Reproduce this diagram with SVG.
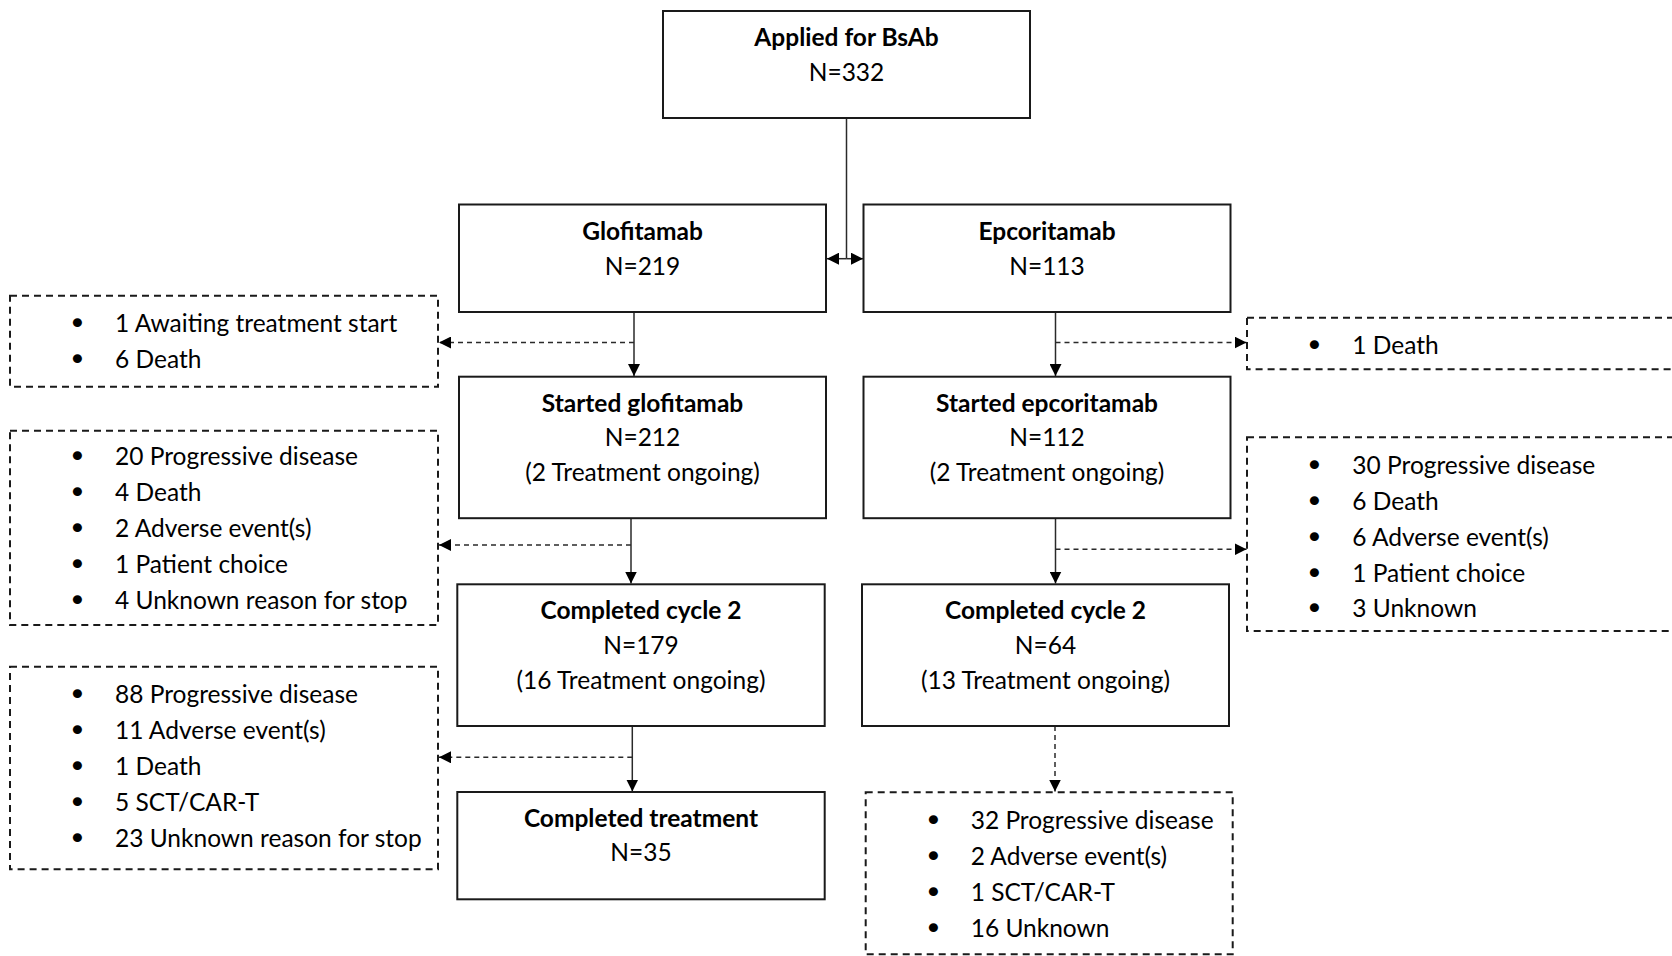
<svg xmlns="http://www.w3.org/2000/svg" width="1672" height="956" viewBox="0 0 1672 956">
<defs>
<style>
.box{fill:#fff;stroke:#1a1a1a;stroke-width:2}
.dbox{fill:#fff;stroke:#1a1a1a;stroke-width:2;stroke-dasharray:7 5}
.t{font-family:Lato,"Liberation Sans",sans-serif;font-size:24.5px;fill:#000}
.b{font-weight:bold;text-anchor:middle}
.c{text-anchor:middle}
.bl{font-family:"DejaVu Sans",sans-serif;font-size:31px;fill:#000;text-anchor:middle}
.ln{fill:none;stroke:#2a2a2a;stroke-width:1.5}
.dl{fill:none;stroke:#2a2a2a;stroke-width:1.5;stroke-dasharray:5 4}
</style>
<marker id="ah" viewBox="0 0 12 12" refX="12" refY="6" markerWidth="12" markerHeight="12" markerUnits="userSpaceOnUse" orient="auto">
<path d="M0,0 L12,6 L0,12 Z" fill="#000"/>
</marker>
</defs>
<rect width="1672" height="956" fill="#fff"/>

<g id="connectors">
<path class="ln" d="M846.5,118 V258.7"/>
<path class="ln" d="M846.5,258.7 H827" marker-end="url(#ah)"/>
<path class="ln" d="M846.5,258.7 H863" marker-end="url(#ah)"/>
<path class="ln" d="M634,312 V376" marker-end="url(#ah)"/>
<path class="dl" d="M634,342.5 H439" marker-end="url(#ah)"/>
<path class="ln" d="M1055.5,312 V376" marker-end="url(#ah)"/>
<path class="dl" d="M1055.5,342.5 H1246.5" marker-end="url(#ah)"/>
<path class="ln" d="M631,518.5 V583.5" marker-end="url(#ah)"/>
<path class="dl" d="M631,545 H439" marker-end="url(#ah)"/>
<path class="ln" d="M1055.5,518.5 V583.5" marker-end="url(#ah)"/>
<path class="dl" d="M1055.5,549.3 H1246.5" marker-end="url(#ah)"/>
<path class="ln" d="M632.3,726 V791.5" marker-end="url(#ah)"/>
<path class="dl" d="M632.3,757.3 H439" marker-end="url(#ah)"/>
<path class="dl" d="M1055,726 V791.5" marker-end="url(#ah)"/>
</g>

<g id="applied">
<rect class="box" x="663" y="11" width="367" height="107"/>
<text class="t b" x="846.5" y="46">Applied for BsAb</text>
<text class="t c" x="846.5" y="80.5">N=332</text>
</g>

<g id="glofitamab">
<rect class="box" x="459" y="204.5" width="367" height="107.5"/>
<text class="t b" x="642.5" y="240">Glofitamab</text>
<text class="t c" x="642.5" y="274.5">N=219</text>
</g>

<g id="epcoritamab">
<rect class="box" x="863.5" y="204.5" width="367" height="107.5"/>
<text class="t b" x="1047" y="240">Epcoritamab</text>
<text class="t c" x="1047" y="274.5">N=113</text>
</g>

<g id="started-glofitamab">
<rect class="box" x="459" y="376.7" width="367" height="141.5"/>
<text class="t b" x="642.5" y="411.5">Started glofitamab</text>
<text class="t c" x="642.5" y="446">N=212</text>
<text class="t c" x="642.5" y="480.5">(2 Treatment ongoing)</text>
</g>

<g id="started-epcoritamab">
<rect class="box" x="863.5" y="376.7" width="367" height="141.5"/>
<text class="t b" x="1047" y="411.5">Started epcoritamab</text>
<text class="t c" x="1047" y="446">N=112</text>
<text class="t c" x="1047" y="480.5">(2 Treatment ongoing)</text>
</g>

<g id="completed-cycle2-glofitamab">
<rect class="box" x="457.3" y="584.3" width="367.4" height="141.7"/>
<text class="t b" x="641" y="619">Completed cycle 2</text>
<text class="t c" x="641" y="653.5">N=179</text>
<text class="t c" x="641" y="688.5">(16 Treatment ongoing)</text>
</g>

<g id="completed-cycle2-epcoritamab">
<rect class="box" x="862" y="584.3" width="367" height="141.7"/>
<text class="t b" x="1045.5" y="619">Completed cycle 2</text>
<text class="t c" x="1045.5" y="653.5">N=64</text>
<text class="t c" x="1045.5" y="688.5">(13 Treatment ongoing)</text>
</g>

<g id="completed-treatment">
<rect class="box" x="457.3" y="792" width="367.4" height="107.3"/>
<text class="t b" x="641" y="826.5">Completed treatment</text>
<text class="t c" x="641" y="861">N=35</text>
</g>

<g id="glof-excluded-1">
<rect class="dbox" x="10" y="295.7" width="428" height="91"/>
<text class="bl" x="77.3" y="334">•</text>
<text class="bl" x="77.3" y="370">•</text>
<text class="t" x="115" y="332">1 Awaiting treatment start</text>
<text class="t" x="115" y="368">6 Death</text>
</g>

<g id="glof-excluded-2">
<rect class="dbox" x="10" y="430.7" width="428" height="194.3"/>
<text class="bl" x="77.3" y="467.3">•</text>
<text class="bl" x="77.3" y="503.3">•</text>
<text class="bl" x="77.3" y="539.3">•</text>
<text class="bl" x="77.3" y="575.3">•</text>
<text class="bl" x="77.3" y="611.3">•</text>
<text class="t" x="115" y="465.3">20 Progressive disease</text>
<text class="t" x="115" y="501.3">4 Death</text>
<text class="t" x="115" y="537.3">2 Adverse event(s)</text>
<text class="t" x="115" y="573.3">1 Patient choice</text>
<text class="t" x="115" y="609.3">4 Unknown reason for stop</text>
</g>

<g id="glof-excluded-3">
<rect class="dbox" x="10" y="666.7" width="428" height="202.6"/>
<text class="bl" x="77.3" y="704.6">•</text>
<text class="bl" x="77.3" y="740.6">•</text>
<text class="bl" x="77.3" y="776.6">•</text>
<text class="bl" x="77.3" y="812.6">•</text>
<text class="bl" x="77.3" y="848.6">•</text>
<text class="t" x="115" y="702.6">88 Progressive disease</text>
<text class="t" x="115" y="738.6">11 Adverse event(s)</text>
<text class="t" x="115" y="774.6">1 Death</text>
<text class="t" x="115" y="810.6">5 SCT/CAR-T</text>
<text class="t" x="115" y="846.6">23 Unknown reason for stop</text>
</g>

<g id="epc-excluded-1">
<rect class="dbox" x="1247" y="317.7" width="450" height="51.6"/>
<text class="bl" x="1314.3" y="355.6">•</text>
<text class="t" x="1352.3" y="353.6">1 Death</text>
</g>

<g id="epc-excluded-2">
<rect class="dbox" x="1247" y="437.3" width="450" height="193.7"/>
<text class="bl" x="1314.3" y="475.6">•</text>
<text class="bl" x="1314.3" y="511.6">•</text>
<text class="bl" x="1314.3" y="547.6">•</text>
<text class="bl" x="1314.3" y="583.6">•</text>
<text class="bl" x="1314.3" y="619.3">•</text>
<text class="t" x="1352.3" y="473.6">30 Progressive disease</text>
<text class="t" x="1352.3" y="509.6">6 Death</text>
<text class="t" x="1352.3" y="545.6">6 Adverse event(s)</text>
<text class="t" x="1352.3" y="581.6">1 Patient choice</text>
<text class="t" x="1352.3" y="617.3">3 Unknown</text>
</g>

<g id="epc-excluded-3">
<rect class="dbox" x="865.7" y="792.3" width="367" height="162"/>
<text class="bl" x="933.3" y="830.6">•</text>
<text class="bl" x="933.3" y="866.6">•</text>
<text class="bl" x="933.3" y="902.6">•</text>
<text class="bl" x="933.3" y="938.6">•</text>
<text class="t" x="970.7" y="828.6">32 Progressive disease</text>
<text class="t" x="970.7" y="864.6">2 Adverse event(s)</text>
<text class="t" x="970.7" y="900.6">1 SCT/CAR-T</text>
<text class="t" x="970.7" y="936.6">16 Unknown</text>
</g>
</svg>
